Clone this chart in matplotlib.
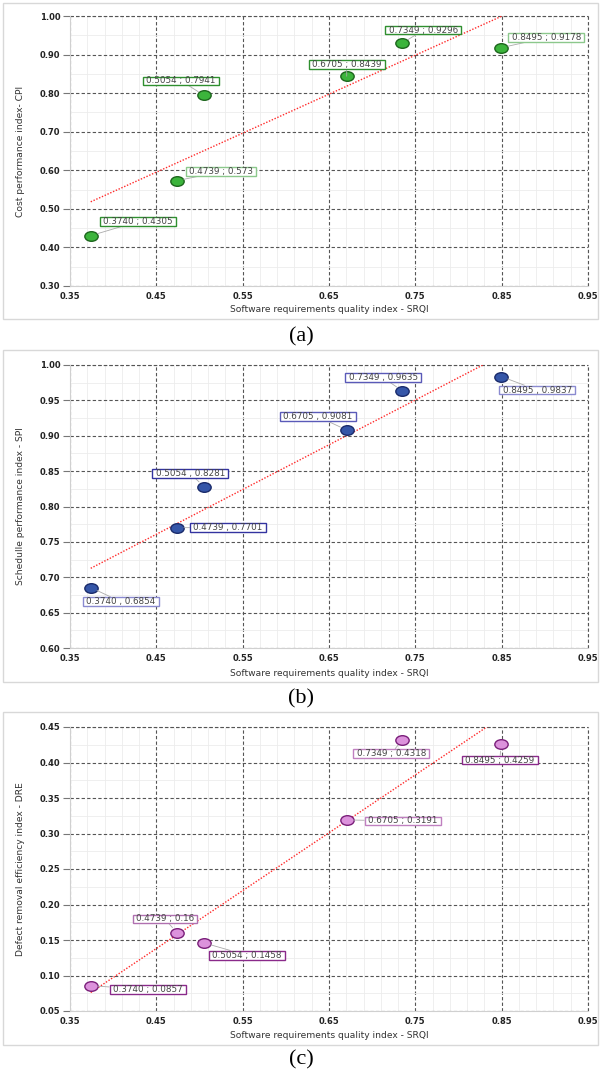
import numpy as np
import matplotlib
matplotlib.use("Agg")
import matplotlib.pyplot as plt
from matplotlib.path import Path
from matplotlib.patches import Rectangle
from matplotlib.ticker import MultipleLocator, FormatStrFormatter

# ---------------- data ----------------
srqi = [0.3740, 0.4739, 0.5054, 0.6705, 0.7349, 0.8495]
cpi = [0.4305, 0.573, 0.7941, 0.8439, 0.9296, 0.9178]
spi = [0.6854, 0.7701, 0.8281, 0.9081, 0.9635, 0.9837]
dre = [0.0857, 0.16, 0.1458, 0.3191, 0.4318, 0.4259]

x_ticks = [0.35, 0.45, 0.55, 0.65, 0.75, 0.85, 0.95]

cpi_labels = ["0.3740 ; 0.4305", "0.4739 ; 0.573", "0.5054 ; 0.7941",
              "0.6705 ; 0.8439", "0.7349 ; 0.9296", "0.8495 ; 0.9178"]
spi_labels = ["0.3740 , 0.6854", "0.4739 , 0.7701", "0.5054 , 0.8281",
              "0.6705 , 0.9081", "0.7349 , 0.9635", "0.8495 , 0.9837"]
dre_labels = ["0.3740 ; 0.0857", "0.4739 ; 0.16", "0.5054 ; 0.1458",
              "0.6705 ; 0.3191", "0.7349 ; 0.4318", "0.8495 ; 0.4259"]

x_label = "Software requirements quality index - SRQI"
y_labels = ["Cost performance index- CPI",
            "Schedulle performance index - SPI",
            "Defect removal efficiency index - DRE"]
panel_tags = ["(a)", "(b)", "(c)"]

# ---------------- layout (pixels) ----------------
W, H = 601, 1076
fig = plt.figure(figsize=(W / 100, H / 100), dpi=100)
fig.patch.set_facecolor("white")

def fx(px):
    return px / W

def fy(py):
    return 1 - py / H

ax_left, ax_right = 70, 588
panels = [
    dict(top=16, bottom=286, ylim=(0.30, 1.00), ystep=0.10, frame=(3, 319),
         xlab_y=310, tag_y=337, fill="#3cb43c", edge="#1d661d",
         box_edges=["#2f8f2f", "#8cc88c", "#2f8f2f", "#2f8f2f", "#2f8f2f", "#8cc88c"],
         offsets=[(47, -14), (44, -9), (-23, -14.5), (0, -11.5), (21, -13), (45, -10)]),
    dict(top=365, bottom=648, ylim=(0.60, 1.00), ystep=0.05, frame=(350, 682),
         xlab_y=673, tag_y=699, fill="#3556a8", edge="#1a2b6b",
         box_edges=["#8a8ad0", "#3333a0", "#3333a0", "#5a5ab8", "#5a5ab8", "#8a8ad0"],
         offsets=[(30, 14), (51, 0), (-14, -13), (-29, -13.5), (-19, -13), (36, 13.5)]),
    dict(top=727, bottom=1011, ylim=(0.05, 0.45), ystep=0.05, frame=(712, 1045),
         xlab_y=1035, tag_y=1060, fill="#dc92dc", edge="#7a1f7a",
         box_edges=["#8a2a8a", "#b070b0", "#8a2a8a", "#c080c0", "#c080c0", "#8a2a8a"],
         offsets=[(57, 4), (-12, -14), (43, 12.3), (56, 1), (-11, 13.5), (-1.5, 16)]),
]
series = [cpi, spi, dre]
labels = [cpi_labels, spi_labels, dre_labels]

# elliptical marker
circ = Path.unit_circle()
ellipse = Path(circ.vertices * np.array([1.0, 0.72]), circ.codes)


def wide_box(x0, y0, width, height, mutation_size):
    px = 0.38 * mutation_size
    py = -0.02 * mutation_size
    x0, y0 = x0 - px, y0 - py
    width, height = width + 2 * px, height + 2 * py
    return Path([(x0, y0), (x0 + width, y0), (x0 + width, y0 + height),
                 (x0, y0 + height), (x0, y0)], closed=True)


grid_style = dict(color="#555555", lw=0.8, ls=(0, (3, 2)))

for i, p in enumerate(panels):
    # frame
    f_top, f_bot = p["frame"]
    fig.patches.append(Rectangle((fx(3), fy(f_bot)), fx(598) - fx(3), fy(f_top) - fy(f_bot),
                                 transform=fig.transFigure, facecolor="white",
                                 edgecolor="#d8d8d8", lw=1.0, zorder=-5))

    ax = fig.add_axes([fx(ax_left), fy(p["bottom"]), fx(ax_right) - fx(ax_left),
                       fy(p["top"]) - fy(p["bottom"])])
    ax.set_zorder(2)
    ax.set_facecolor("none")
    ax.set_xlim(0.35, 0.95)
    ax.set_ylim(*p["ylim"])
    ax.set_xticks(x_ticks)
    ax.xaxis.set_minor_locator(MultipleLocator(0.02, offset=0.01))
    ax.yaxis.set_major_locator(MultipleLocator(p["ystep"]))
    ax.yaxis.set_minor_locator(MultipleLocator(p["ystep"] / 2))
    ax.xaxis.set_major_formatter(FormatStrFormatter("%.2f"))
    ax.yaxis.set_major_formatter(FormatStrFormatter("%.2f"))

    for s in ["top", "right"]:
        ax.spines[s].set_visible(False)
    for s in ["left", "bottom"]:
        ax.spines[s].set_color("#d0d0d0")
        ax.spines[s].set_linewidth(0.8)

    ax.grid(which="minor", color="#ececec", lw=0.6, ls="-")
    ax.grid(which="major", **grid_style)
    ax.set_axisbelow(True)
    # border gridlines at the right and top edges (not clipped)
    ax.axvline(0.95, clip_on=False, zorder=1, **grid_style)
    ax.axhline(p["ylim"][1], clip_on=False, zorder=1, **grid_style)

    ax.tick_params(axis="y", which="major", length=5, width=0.8, color="#777777",
                   pad=2, labelsize=6, labelcolor="#222222")
    ax.tick_params(axis="x", which="major", length=0, pad=4, labelsize=6,
                   labelcolor="#222222")
    ax.tick_params(which="minor", length=0)
    for lab in ax.get_xticklabels() + ax.get_yticklabels():
        lab.set_fontweight("bold")

    # trend line (least squares)
    ys = series[i]
    k, b = np.polyfit(srqi, ys, 1)
    xt = np.array([min(srqi), 0.95])
    ax.plot(xt, k * xt + b, color="#ff2a2a", lw=1.0, ls=(0, (1, 1.2)), zorder=3)

    # points
    ax.plot(srqi, ys, ls="none", marker=ellipse, ms=9.6, mfc=p["fill"],
            mec=p["edge"], mew=1.0, zorder=5, clip_on=False)

    # data labels
    for j, (xv, yv) in enumerate(zip(srqi, ys)):
        dx, dy = p["offsets"][j]
        ax.annotate(labels[i][j], xy=(xv, yv), xytext=(dx, -dy),
                    textcoords="offset pixels", ha="center", va="center",
                    fontsize=6.3, color="#444444", family="DejaVu Sans", zorder=6,
                    bbox=dict(boxstyle=wide_box, fc="white", ec=p["box_edges"][j], lw=1.0),
                    arrowprops=dict(arrowstyle="-", color="#aaaaaa", lw=0.6,
                                    shrinkA=0, shrinkB=5))

    # axis labels
    fig.text(fx((ax_left + ax_right) / 2), fy(p["xlab_y"]), x_label, ha="center",
             va="center", fontsize=6.6, color="#333333", family="DejaVu Sans")
    fig.text(fx(21), fy((p["top"] + p["bottom"]) / 2), y_labels[i], rotation=90,
             ha="center", va="center", fontsize=6.6, color="#333333", family="DejaVu Sans")
    fig.text(fx(301), fy(p["tag_y"]), panel_tags[i], ha="center", va="center",
             fontsize=16, family="Liberation Serif", color="black")

fig.savefig("out.png", dpi=100, facecolor="white")
